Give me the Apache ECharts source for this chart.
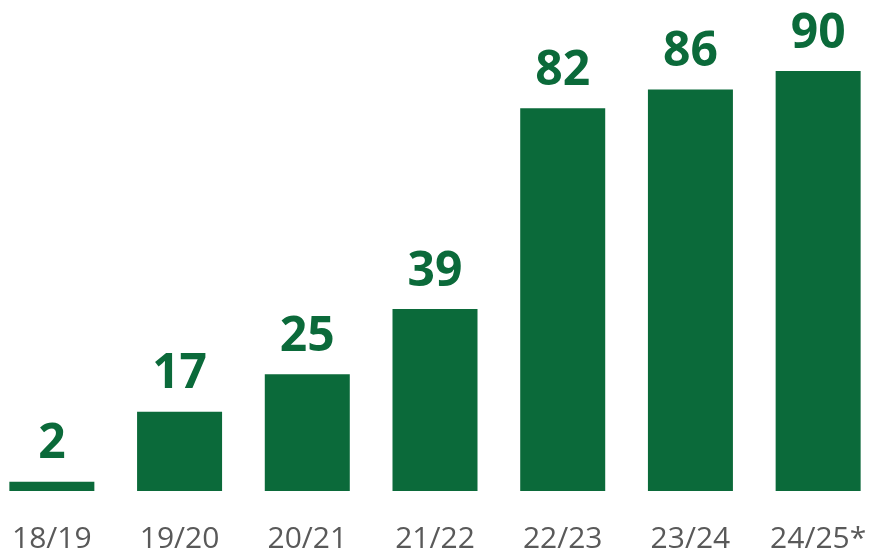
<!DOCTYPE html>
<html>
<head>
<meta charset="utf-8">
<script src="https://cdn.jsdelivr.net/npm/echarts@6/dist/echarts.min.js"></script>
<style>
  html, body { margin: 0; padding: 0; background: #ffffff; }
  #chart { width: 869px; height: 551px; }
</style>
</head>
<body>
<div id="chart"></div>
<script>
// Season labels and counts per season
const seasons = ['18/19', '19/20', '20/21', '21/22', '22/23', '23/24', '24/25*'];
const counts = [2, 17, 25, 39, 82, 86, 90];

const barColor = '#0b6a3a';

const chart = echarts.init(document.getElementById('chart'));
chart.setOption({
  animation: false,
  grid: { left: -12, right: -13, top: 0, bottom: 60, outerBoundsMode: 'none', containLabel: false },
  xAxis: {
    type: 'category',
    data: seasons,
    axisLine: { show: false },
    axisTick: { show: false },
    axisLabel: {
      margin: 33,
      color: '#595959',
      fontFamily: 'Open Sans',
      fontSize: 30
    }
  },
  yAxis: {
    type: 'value',
    min: 0,
    max: 105.2,
    show: false,
    splitLine: { show: false }
  },
  series: [{
    type: 'bar',
    data: counts,
    barWidth: 85,
    itemStyle: { color: barColor },
    label: {
      show: true,
      position: 'top',
      distance: 13,
      color: barColor,
      fontFamily: 'Open Sans',
      fontWeight: 'bold',
      fontSize: 48
    }
  }]
});
</script>
</body>
</html>
